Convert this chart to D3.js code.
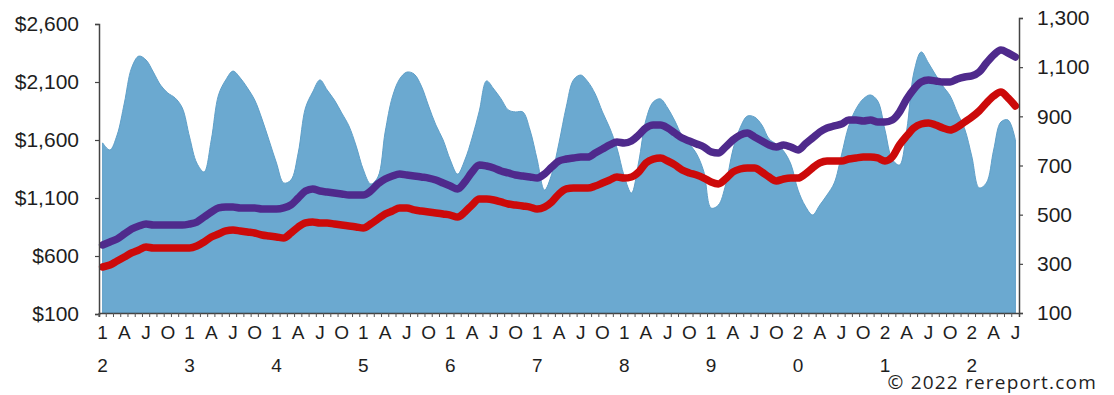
<!DOCTYPE html>
<html>
<head>
<meta charset="utf-8">
<script src="https://cdn.jsdelivr.net/npm/d3@7"></script>
<style>
  html, body { margin: 0; padding: 0; background: #ffffff; }
  svg { display: block; }
  text { font-family: "Liberation Sans", Arial, sans-serif; fill: #1e1e1e; }
</style>
</head>
<body>
<svg id="chart" width="1114" height="395"></svg>
<script>
// ---- Data (monthly, Jan 2012 – Jul 2022) ----
const monthCount = 127;

// Blue area (right axis)
const volume = [
  792, 763, 824, 954, 1097, 1145, 1129, 1080, 1027, 995, 975, 934,
  816, 710, 674, 804, 987, 1048, 1084, 1056, 1015, 966, 889, 800,
  710, 629, 641, 751, 934, 999, 1048, 1007, 966, 914, 861, 779,
  682, 625, 653, 836, 979, 1052, 1080, 1072, 1023, 942, 865, 804,
  722, 665, 722, 812, 922, 1044, 1011, 971, 926, 918, 918, 844,
  722, 600, 665, 792, 938, 1048, 1068, 1040, 991, 918, 853, 771,
  657, 588, 714, 885, 958, 971, 934, 881, 820, 787, 747, 674,
  527, 539, 621, 763, 853, 901, 897, 865, 808, 787, 759, 706,
  600, 535, 499, 539, 580, 629, 743, 861, 930, 971, 987, 962,
  844, 726, 702, 844, 1080, 1162, 1117, 1068, 1023, 983, 914, 849,
  735, 609, 629, 763, 877, 885, 804
];

// Purple line (left axis, $)
const averagePrice = [
  695, 721, 747, 790, 833, 859, 876, 867, 867, 867, 867, 867,
  876, 893, 936, 979, 1014, 1022, 1022, 1014, 1014, 1014, 1005, 1005,
  1005, 1014, 1040, 1100, 1160, 1178, 1160, 1152, 1143, 1135, 1126, 1126,
  1126, 1160, 1221, 1264, 1290, 1307, 1298, 1290, 1281, 1272, 1255, 1229,
  1203, 1178, 1238, 1324, 1385, 1376, 1359, 1333, 1316, 1298, 1290, 1281,
  1272, 1307, 1367, 1419, 1436, 1445, 1453, 1453, 1488, 1522, 1557, 1583,
  1574, 1591, 1643, 1704, 1729, 1729, 1704, 1660, 1617, 1591, 1566, 1540,
  1497, 1488, 1540, 1600, 1643, 1660, 1626, 1591, 1557, 1540, 1557, 1540,
  1514, 1566, 1617, 1669, 1704, 1721, 1738, 1772, 1772, 1764, 1772, 1755,
  1755, 1772, 1841, 1953, 2040, 2100, 2117, 2109, 2100, 2100, 2126, 2143,
  2152, 2186, 2264, 2333, 2376, 2350, 2316
];

// Red line (left axis, $)
const medianPrice = [
  505, 522, 557, 591, 626, 652, 678, 669, 669, 669, 669, 669,
  669, 686, 721, 764, 790, 816, 824, 816, 807, 798, 781, 772,
  764, 755, 798, 850, 885, 893, 885, 885, 876, 867, 859, 850,
  841, 876, 919, 962, 988, 1014, 1014, 997, 988, 979, 971, 962,
  953, 936, 979, 1040, 1091, 1091, 1083, 1066, 1048, 1040, 1031, 1022,
  1005, 1022, 1066, 1135, 1178, 1186, 1186, 1186, 1203, 1229, 1255, 1281,
  1272, 1281, 1324, 1402, 1436, 1445, 1419, 1385, 1341, 1316, 1298, 1272,
  1238, 1221, 1264, 1324, 1350, 1359, 1359, 1324, 1281, 1247, 1264, 1272,
  1272, 1307, 1359, 1402, 1419, 1419, 1419, 1436, 1445, 1453, 1453, 1445,
  1419, 1453, 1557, 1635, 1704, 1738, 1747, 1729, 1704, 1686, 1712, 1755,
  1798, 1850, 1919, 1979, 2014, 1962, 1893
];

// Axis ticks and labels
const leftTicks = [100, 600, 1100, 1600, 2100, 2600];
const rightTicks = [100, 300, 500, 700, 900, 1100, 1300];
const xTopLabels = [
  "1","A","J","O", "1","A","J","O", "1","A","J","O", "1","A","J","O",
  "1","A","J","O", "1","A","J","O", "1","A","J","O", "1","A","J","O",
  "2","A","J","O", "2","A","J","O", "2","A","J"
];
const xBottomLabels = ["2","3","4","5","6","7","8","9","0","1","2"];
const creditText = "\u00A9 2022 rereport.com";

// ---- Layout ----
const svg = d3.select("#chart");
const plotLeft = 99, plotRight = 1019;

const months = d3.range(monthCount);
const x = d3.scaleBand().domain(months).range([plotLeft, plotRight]).padding(0);
const cx = i => x(i) + x.bandwidth() / 2;

const yL = d3.scaleLinear().domain([100, 2600]).range([314, 24]);
const yR = d3.scaleLinear().domain([100, 1300]).range([313, 18]);

// Area
const area = d3.area()
  .x((d, i) => cx(i))
  .y0(yR(100))
  .y1(d => yR(d))
  .curve(d3.curveCatmullRom.alpha(0.5));

svg.append("path")
  .datum(volume)
  .attr("d", area)
  .attr("fill", "#6ba9d0")
  .attr("stroke", "#5f9fc8")
  .attr("stroke-width", 1);

// Lines
const lineL = d3.line()
  .x((d, i) => cx(i))
  .y(d => yL(d))
  .curve(d3.curveMonotoneX);

svg.append("path")
  .datum(averagePrice)
  .attr("d", lineL)
  .attr("fill", "none")
  .attr("stroke", "#4f2a8c")
  .attr("stroke-width", 7.5)
  .attr("stroke-linejoin", "round")
  .attr("stroke-linecap", "round");

svg.append("path")
  .datum(medianPrice)
  .attr("d", lineL)
  .attr("fill", "none")
  .attr("stroke", "#cc0a0a")
  .attr("stroke-width", 7.5)
  .attr("stroke-linejoin", "round")
  .attr("stroke-linecap", "round");

// Left axis
const leftAxis = d3.axisLeft(yL)
  .tickValues(leftTicks)
  .tickSize(4)
  .tickPadding(16)
  .tickFormat(d => "$" + d3.format(",")(d));
const gL = svg.append("g").attr("transform", `translate(${plotLeft},0)`).call(leftAxis);
gL.select(".domain").attr("stroke", "#444").attr("stroke-width", 1.5);
gL.selectAll(".tick line").attr("stroke", "#444").attr("stroke-width", 1.2);
gL.selectAll(".tick text")
  .style("font-family", '"Liberation Sans", Arial, sans-serif')
  .style("font-size", "21px")
  .attr("fill", "#1e1e1e");

// Right axis
const rightAxis = d3.axisRight(yR)
  .tickValues(rightTicks)
  .tickSize(4)
  .tickPadding(14)
  .tickFormat(d3.format(","));
const gR = svg.append("g").attr("transform", `translate(${plotRight},0)`).call(rightAxis);
gR.select(".domain").attr("stroke", "#444").attr("stroke-width", 1.5);
gR.selectAll(".tick line").attr("stroke", "#444").attr("stroke-width", 1.2);
gR.selectAll(".tick text")
  .style("font-family", '"Liberation Sans", Arial, sans-serif')
  .style("font-size", "21px")
  .attr("fill", "#1e1e1e");

// Bottom axis with monthly ticks
const bottomY = 313;
const bottomAxis = d3.axisBottom(x)
  .tickValues(months)
  .tickSize(4)
  .tickFormat("");
const gB = svg.append("g").attr("transform", `translate(0,${bottomY})`).call(bottomAxis);
gB.select(".domain").attr("stroke", "#444").attr("stroke-width", 1.5);
gB.selectAll(".tick line")
  .attr("transform", `translate(${-x.bandwidth() / 2},0)`)
  .attr("stroke", "#555").attr("stroke-width", 1);

// Quarter labels
const quarterIdx = months.filter(i => i % 3 === 0);
svg.append("g").selectAll("text")
  .data(quarterIdx)
  .join("text")
  .attr("x", i => cx(i))
  .attr("y", 339)
  .attr("text-anchor", "middle")
  .style("font-size", "19px")
  .text((i, k) => xTopLabels[k]);

// Year digit labels
const yearIdx = months.filter(i => i % 12 === 0);
svg.append("g").selectAll("text")
  .data(yearIdx)
  .join("text")
  .attr("x", i => cx(i))
  .attr("y", 372)
  .attr("text-anchor", "middle")
  .style("font-size", "19px")
  .text((i, k) => xBottomLabels[k]);

// Credit
svg.append("text")
  .attr("x", 1097)
  .attr("y", 389)
  .attr("text-anchor", "end")
  .style("font-family", '"Open Sans", "Noto Sans", sans-serif')
  .style("font-size", "19px")
  .style("letter-spacing", "1.2px")
  .attr("fill", "#222")
  .text(creditText);
</script>
</body>
</html>
